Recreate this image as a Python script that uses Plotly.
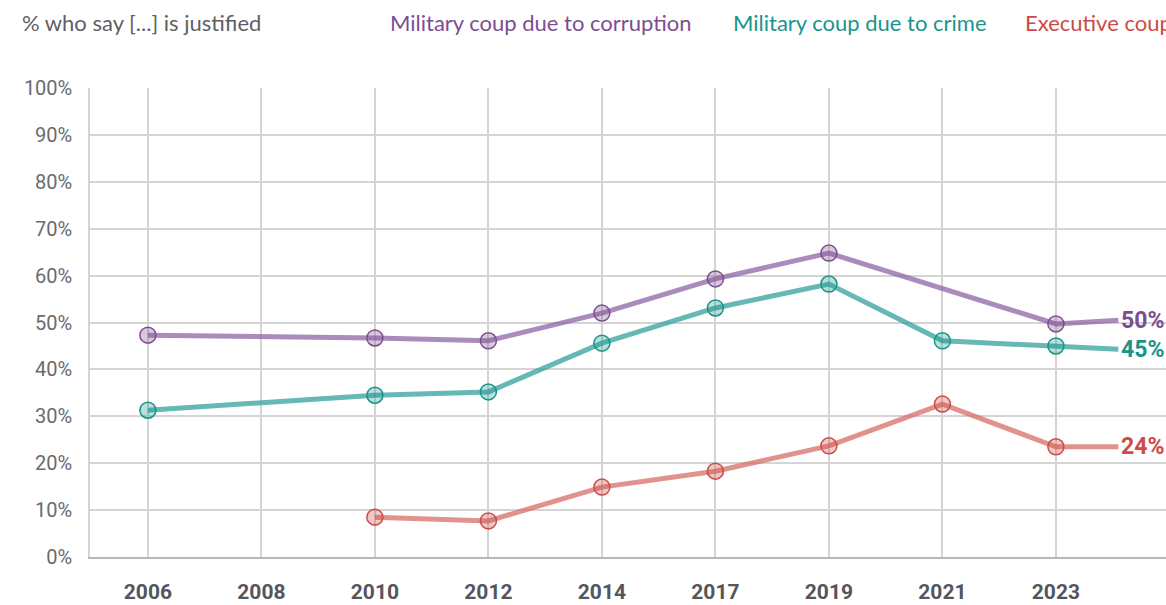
import plotly.graph_objects as go

years = ["2006", "2008", "2010", "2012", "2014", "2017", "2019", "2021", "2023"]
corruption = [47.3, None, 46.7, 46.1, 52.0, 59.3, 64.8, None, 49.7]
crime = [31.3, None, 34.5, 35.2, 45.6, 53.1, 58.2, 46.1, 45.0]
executive = [None, None, 8.5, 7.7, 14.9, 18.3, 23.7, 32.6, 23.5]
latest = {"corruption": 50.5, "crime": 44.3, "executive": 23.5}
latest_labels = {"corruption": "50%", "crime": "45%", "executive": "24%"}
y_ticks = [0, 10, 20, 30, 40, 50, 60, 70, 80, 90, 100]

xpos = list(range(len(years)))
end_x = len(years) - 1 + 0.55

series = [
    ("Military coup due to corruption", corruption, "corruption", "rgba(140,100,165,0.75)", "#7d4e8f", "rgba(125,78,143,0.3)"),
    ("Military coup due to crime", crime, "crime", "rgba(50,160,155,0.75)", "#1a948a", "rgba(26,148,138,0.3)"),
    ("Executive coup", executive, "executive", "rgba(215,110,103,0.75)", "#cc4b45", "rgba(204,75,69,0.3)"),
]

W, H = 1166, 605
L, R, T, B = 90, 0, 88, 605 - 557
pw, ph = W - L - R, H - T - B

def px_to_paper(x, y):
    return (x - L) / pw, (H - B - y) / ph

fig = go.Figure()
for name, vals, key, lc, dc, fc in series:
    xs = [x for x, v in zip(xpos, vals) if v is not None]
    ys = [v for v in vals if v is not None]
    fig.add_trace(go.Scatter(
        x=xs + [end_x], y=ys + [latest[key]], mode="lines",
        line=dict(color=lc, width=5), showlegend=False, hoverinfo="skip"))
    fig.add_trace(go.Scatter(
        x=xs, y=ys, mode="markers",
        marker=dict(size=16, color=fc, line=dict(color=dc, width=1.5)),
        showlegend=False, name=name))
    fig.add_annotation(x=end_x, y=latest[key], xref="x", yref="y",
                       text="<b>" + latest_labels[key] + "</b>", showarrow=False,
                       xanchor="left", xshift=1,
                       font=dict(family="Roboto", size=23, color=dc))

tx, ty = px_to_paper(20, 23)
fig.add_annotation(x=tx, y=ty, xref="paper", yref="paper", text="% who say [...] is justified",
                   showarrow=False, xanchor="left", yanchor="middle",
                   font=dict(family="Lato", size=22, color="#5f5f66"))
leg_x = [388, 731, 1023]
for (name, _, _, _, dc, _), lx in zip(series, leg_x):
    ax, ay = px_to_paper(lx, 23)
    fig.add_annotation(x=ax, y=ay, xref="paper", yref="paper", text=name,
                       showarrow=False, xanchor="left", yanchor="middle",
                       font=dict(family="Lato", size=22, color=dc))

fig.update_layout(
    width=W, height=H,
    margin=dict(l=L, r=R, t=T, b=B, autoexpand=False),
    plot_bgcolor="white", paper_bgcolor="white",
    xaxis=dict(range=[-0.51, 8.97], tickmode="array", tickvals=xpos, ticktext=["<b>%s</b>" % y for y in years],
               showgrid=True, gridcolor="#d4d4d4", gridwidth=1.5, zeroline=False,
               showline=True, linecolor="#b8b8b8", linewidth=1.5, automargin=False,
               tickfont=dict(family="Roboto", size=21, color="#55555d"), ticks="", ticklen=0,
               ticklabelstandoff=15),
    yaxis=dict(range=[0, 100], tickvals=y_ticks, ticktext=["%d%%" % v for v in y_ticks],
               showgrid=True, gridcolor="#d4d4d4", gridwidth=1.5, zeroline=False,
               showline=True, linecolor="#d4d4d4", linewidth=1.5, automargin=False,
               tickfont=dict(family="Roboto", size=20, color="#6a6a70"), ticks="", ticklen=0,
               ticklabelstandoff=12),
    hovermode=False,
)

fig.write_html("out.html", config={"displayModeBar": False},
               post_script="document.body.style.margin='0px';document.body.style.overflow='hidden';")
